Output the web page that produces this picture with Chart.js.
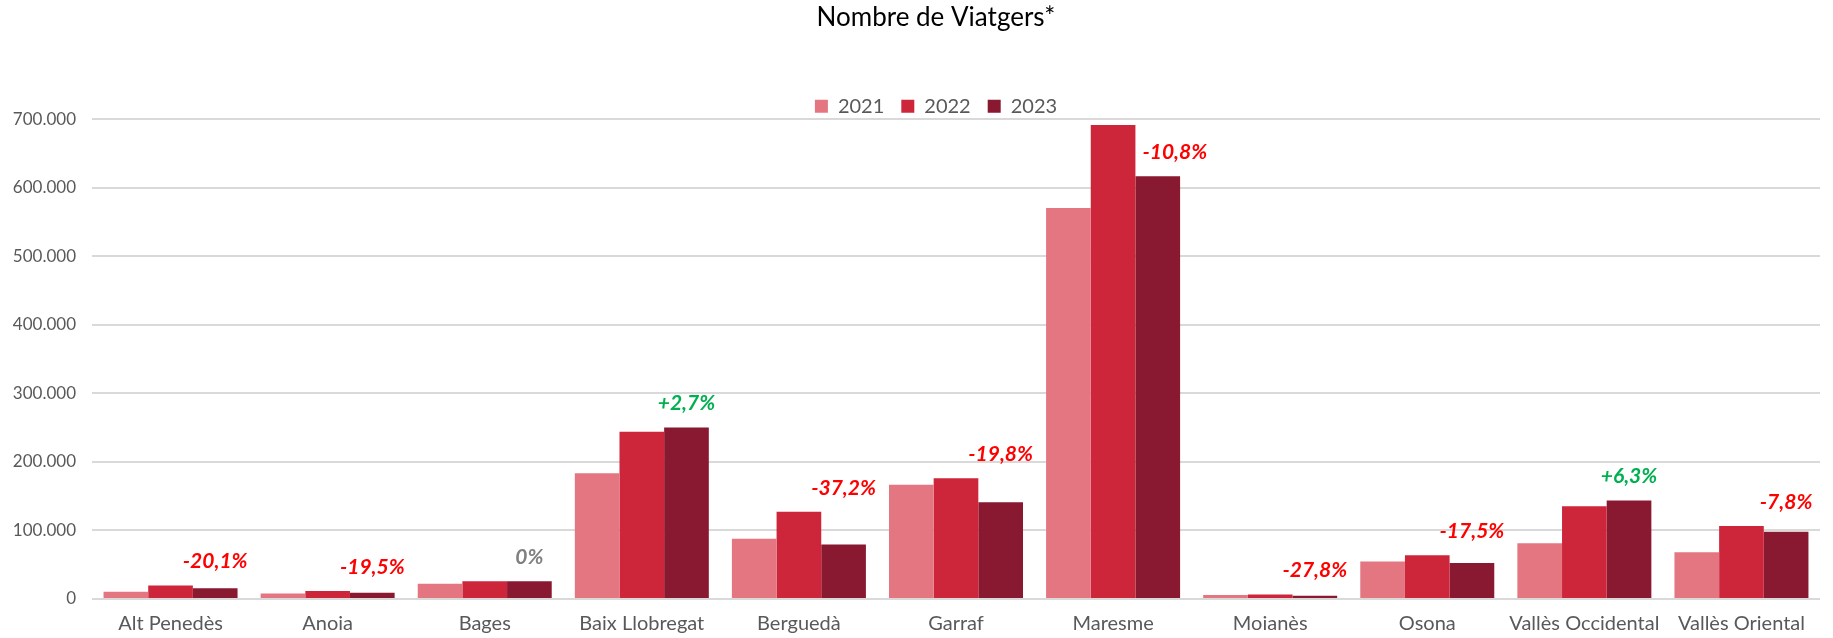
<!DOCTYPE html>
<html>
<head>
<meta charset="utf-8">
<script src="https://cdn.jsdelivr.net/npm/chart.js@4"></script>
<style>
  body { margin: 0; background: #fff; }
  #wrap { width: 1833px; height: 638px; }
</style>
</head>
<body>
<div id="wrap"><canvas id="viatgersChart" width="1833" height="638"></canvas></div>
<script>
// comarques
var categories = ['Alt Penedès', 'Anoia', 'Bages', 'Baix Llobregat', 'Berguedà', 'Garraf',
                  'Maresme', 'Moianès', 'Osona', 'Vallès Occidental', 'Vallès Oriental'];
var years = ['2021', '2022', '2023'];
var values2021 = [10500, 8000, 22400, 183400, 87800, 166800, 570300, 6000, 54800, 81400, 68300];
var values2022 = [19800, 11500, 25900, 243900, 127300, 176100, 691400, 6500, 63800, 135200, 106500];
var values2023 = [15800, 9250, 25900, 250200, 79500, 141200, 616600, 4700, 52600, 143700, 98200];
// variacio 2023 vs 2022
var changeLabels = ['-20,1%', '-19,5%', '0%', '+2,7%', '-37,2%', '-19,8%',
                    '-10,8%', '-27,8%', '-17,5%', '+6,3%', '-7,8%'];
var yMax = 700000;
var yStep = 100000;

var colors = ['#E47681', '#CD263B', '#881931'];

function labelColor(txt) {
    if (txt.charAt(0) == '+') return '#00B050';
    if (txt.charAt(0) == '-') return '#FF0000';
    return '#808080';
}

// etiquetes de variacio sobre cada grup
var changePlugin = {
    id: 'changeLabels',
    afterLayout: function(chart) {
        // baixa una mica la llegenda, mes a prop del grafic
        chart.legend.top += 7;
        chart.legend.bottom += 7;
    },
    afterDatasetsDraw: function(chart) {
        var ctx = chart.ctx;
        var area = chart.chartArea;
        ctx.save();
        ctx.font = 'italic bold 21px Lato';
        ctx.textBaseline = 'middle';
        for (var i = 0; i < categories.length; i++) {
            var bars = [0, 1, 2].map(function(d) { return chart.getDatasetMeta(d).data[i]; });
            var last = bars[2];
            var top = Math.min(bars[0].y, bars[1].y, bars[2].y);
            var tallest = bars.filter(function(b) { return b.y == top; })[0];
            var y = top - 24;
            ctx.fillStyle = labelColor(changeLabels[i]);
            if (y - 10 < area.top) {
                // no hi cap a sobre: al costat de la barra mes alta
                ctx.textAlign = 'left';
                ctx.fillText(changeLabels[i], tallest.x + tallest.width / 2 + 7, last.y - 24);
            } else {
                ctx.textAlign = 'center';
                ctx.fillText(changeLabels[i], last.x, y);
            }
        }
        ctx.restore();
    }
};

var ctx = document.getElementById('viatgersChart').getContext('2d');
var chart = new Chart(ctx, {
    type: 'bar',
    data: {
        labels: categories,
        datasets: [
            { label: years[0], data: values2021, backgroundColor: colors[0] },
            { label: years[1], data: values2022, backgroundColor: colors[1] },
            { label: years[2], data: values2023, backgroundColor: colors[2] }
        ]
    },
    options: {
        responsive: false,
        animation: false,
        layout: { padding: { left: 52, right: 13, top: 0, bottom: 3 } },
        datasets: {
            bar: { categoryPercentage: 0.853, barPercentage: 1.0, borderWidth: 0 }
        },
        plugins: {
            title: {
                display: true,
                text: 'Nombre de Viatgers*',
                color: '#000',
                font: { family: 'Lato', size: 26, weight: 'normal' },
                padding: { top: 2, bottom: 39 }
            },
            legend: {
                display: true,
                labels: {
                    boxWidth: 13,
                    boxHeight: 13,
                    padding: 17,
                    color: '#595959',
                    font: { family: 'Lato', size: 20 }
                }
            },
            tooltip: { enabled: false }
        },
        scales: {
            x: {
                grid: { display: false, drawTicks: false },
                border: { display: false },
                afterFit: function(scale) {
                    scale.height = 36;
                    scale._computeLabelArea = function() {};
                },
                ticks: {
                    color: '#595959',
                    padding: 13,
                    maxRotation: 0,
                    autoSkip: false,
                    font: { family: 'Lato', size: 20 }
                }
            },
            y: {
                min: 0,
                max: yMax,
                grid: { color: '#D9D9D9', lineWidth: 2, drawTicks: false },
                border: { display: false },
                afterFit: function(scale) {
                    scale.width = 40;
                    // les etiquetes surten per l'esquerra, sense retallar
                    scale._computeLabelArea = function() {};
                },
                ticks: {
                    stepSize: yStep,
                    color: '#595959',
                    padding: 16,
                    font: { family: 'Lato', size: 17 },
                    callback: function(v) {
                        return String(v).replace(/\B(?=(\d{3})+(?!\d))/g, '.');
                    }
                }
            }
        }
    },
    plugins: [changePlugin]
});
</script>
</body>
</html>
